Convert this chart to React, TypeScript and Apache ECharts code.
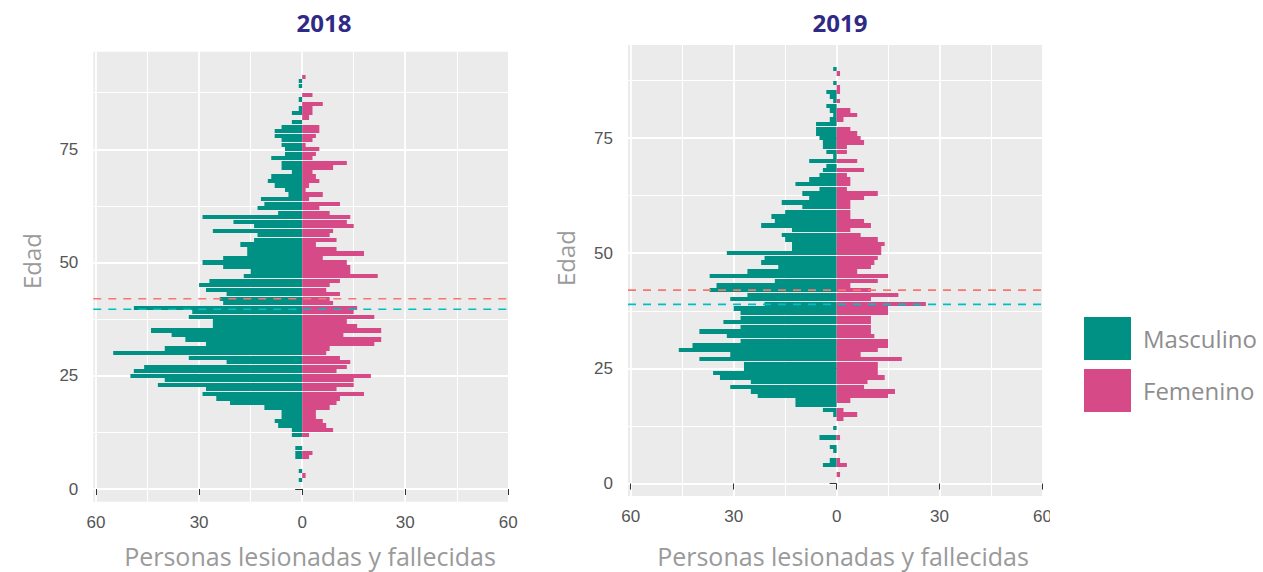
import React, { useEffect, useRef } from 'react';
import * as echarts from 'echarts';

// ---------- data (index = age in years) ----------
const YEARS = ['2018', '2019'];
const SEX_NAMES = ['Masculino', 'Femenino'];

const MALE_2018 = [
  0, 0, 1, 0, 1, 0, 0, 2, 2, 2,
  0, 0, 3, 3, 7, 8, 6, 6, 11, 21,
  25, 29, 28, 42, 40, 50, 49, 46, 22, 33,
  55, 40, 28, 34, 38, 44, 26, 26, 33, 32,
  49, 23, 24, 22, 28, 30, 27, 17, 15, 23,
  29, 23, 16, 16, 18, 14, 13, 26, 14, 20,
  29, 7, 13, 11, 12, 4, 5, 8, 10, 9,
  3, 6, 6, 9, 5, 5, 6, 6, 8, 8,
  6, 3, 0, 3, 1, 0, 1, 0, 0, 1,
  1, 0, 0,
];
const FEMALE_2018 = [
  0, 0, 0, 1, 0, 0, 0, 2, 3, 0,
  0, 0, 2, 9, 7, 6, 4, 4, 8, 10,
  11, 18, 10, 15, 15, 20, 10, 13, 14, 11,
  7, 8, 21, 23, 12, 23, 16, 13, 21, 15,
  16, 9, 8, 11, 7, 8, 11, 22, 14, 14,
  13, 6, 18, 10, 4, 10, 8, 9, 15, 13,
  14, 8, 5, 11, 2, 6, 1, 2, 5, 4,
  3, 9, 13, 3, 4, 5, 1, 3, 4, 5,
  5, 0, 2, 3, 3, 6, 0, 3, 0, 0,
  0, 1, 0,
];
const MALE_2019 = [
  0, 0, 0, 0, 4, 2, 0, 1, 2, 0,
  5, 0, 1, 0, 0, 1, 4, 12, 12, 23,
  25, 31, 25, 34, 36, 27, 27, 40, 31, 46,
  42, 28, 32, 40, 28, 33, 28, 28, 30, 21,
  31, 26, 37, 35, 18, 37, 26, 17, 22, 21,
  32, 13, 13, 15, 16, 13, 22, 18, 19, 15,
  10, 16, 8, 10, 5, 12, 8, 5, 4, 3,
  8, 1, 3, 4, 4, 5, 6, 6, 6, 2,
  1, 2, 3, 1, 2, 3, 0, 1, 0, 0,
  1,
];
const FEMALE_2019 = [
  0, 0, 1, 0, 3, 1, 0, 0, 0, 0,
  1, 0, 0, 0, 2, 6, 2, 0, 4, 15,
  17, 8, 9, 14, 12, 12, 12, 19, 7, 12,
  15, 15, 11, 10, 10, 10, 10, 15, 15, 26,
  10, 18, 10, 4, 12, 15, 6, 10, 11, 12,
  13, 13, 14, 12, 7, 4, 10, 8, 4, 4,
  4, 4, 8, 12, 3, 4, 4, 3, 8, 0,
  6, 0, 3, 3, 8, 7, 6, 4, 0, 2,
  6, 4, 0, 1, 0, 1, 1, 0, 0, 1,
  0,
];
// mean age lines per year
const MEAN_FEMALE = [42.0, 42.0];
const MEAN_MALE = [39.7, 38.9];

// tick values
const X_MAJOR = [-60, -30, 0, 30, 60];
const X_MINOR = [-45, -15, 15, 45];
const Y_MAJOR = [0, 25, 50, 75];
const Y_MINOR = [12.5, 37.5, 62.5, 87.5];

// ---------- styling / layout ----------
const TEAL = '#009184';
const PINK = '#D64A87';
const MEAN_F_COLOR = '#F8766D';
const MEAN_M_COLOR = '#00BFC4';
const TEXT_FONT = '"Open Sans", "Noto Sans", sans-serif';
const TICK_FONT = '"Liberation Sans", Arial, sans-serif';
const BAR_HALF = 0.47;

const PANELS = [
  { left: 93.3, top: 51.7, width: 415, height: 450, xMin: -60.8, xMax: 60, yMin: -2.8, yMax: 96.55, titleX: 324, yTitleX: 31, yTitleY: 261, xTitleX: 310 },
  { left: 628, top: 45, width: 414.5, height: 451, xMin: -60.8, xMax: 60, yMin: -2.7, yMax: 95.2, titleX: 840, yTitleX: 565, yTitleY: 258, xTitleX: 843 },
];

const DATA = [
  { male: MALE_2018, female: FEMALE_2018 },
  { male: MALE_2019, female: FEMALE_2019 },
];

const renderBar = (_params: any, api: any) => {
  const v = api.value(0);
  const age = api.value(1);
  const a = api.coord([0, age + BAR_HALF]);
  const b = api.coord([v, age - BAR_HALF]);
  const y0 = Math.round(a[1]);
  const y1 = Math.round(b[1]);
  return {
    type: 'rect',
    shape: { x: Math.min(a[0], b[0]), y: y0, width: Math.abs(b[0] - a[0]), height: y1 - y0 },
    style: { fill: api.visual('color') },
  };
};

function buildOption() {
  const grid: any[] = [];
  const xAxis: any[] = [];
  const yAxis: any[] = [];
  const series: any[] = [];
  const graphic: any[] = [];

  PANELS.forEach((p, i) => {
    grid.push({
      left: p.left, top: p.top, width: p.width, height: p.height,
      show: true, backgroundColor: '#EBEBEB', borderWidth: 0,
    });
    xAxis.push({
      type: 'value', gridIndex: i, min: p.xMin, max: p.xMax, position: 'bottom',
      axisLine: { show: false },
      axisTick: { show: true, customValues: X_MAJOR, length: 6, lineStyle: { color: '#333', width: 1 } },
      axisLabel: { customValues: X_MAJOR, formatter: (v: number) => String(Math.abs(v)), color: '#555', fontSize: 17, fontFamily: TICK_FONT, margin: 12 },
      splitLine: { show: true, lineStyle: { color: '#ffffff', width: 1.8 } },
    });
    xAxis.push({
      type: 'value', gridIndex: i, min: p.xMin, max: p.xMax, position: 'top',
      axisLine: { show: false },
      axisTick: { show: false, customValues: X_MINOR },
      axisLabel: { show: false, customValues: X_MINOR },
      splitLine: { show: true, lineStyle: { color: '#ffffff', width: 1.1 } },
    });
    yAxis.push({
      type: 'value', gridIndex: i, min: p.yMin, max: p.yMax, position: 'left',
      axisLine: { show: false },
      axisTick: { show: true, customValues: Y_MAJOR, length: 7, lineStyle: { color: '#333', width: 1 } },
      axisLabel: { customValues: Y_MAJOR, color: '#555', fontSize: 17, fontFamily: TICK_FONT, margin: 15 },
      splitLine: { show: true, lineStyle: { color: '#ffffff', width: 1.8 } },
    });
    yAxis.push({
      type: 'value', gridIndex: i, min: p.yMin, max: p.yMax, position: 'right',
      axisLine: { show: false },
      axisTick: { show: false, customValues: Y_MINOR },
      axisLabel: { show: false, customValues: Y_MINOR },
      splitLine: { show: true, lineStyle: { color: '#ffffff', width: 1.1 } },
    });

    const d = DATA[i];
    const maleData = d.male.map((v, age) => [-v, age]).filter((r) => r[0] !== 0);
    const femaleData = d.female.map((v, age) => [v, age]).filter((r) => r[0] !== 0);
    series.push({
      type: 'custom', name: SEX_NAMES[0], xAxisIndex: 2 * i, yAxisIndex: 2 * i,
      renderItem: renderBar, itemStyle: { color: TEAL }, encode: { x: 0, y: 1 }, data: maleData,
    });
    series.push({
      type: 'custom', name: SEX_NAMES[1], xAxisIndex: 2 * i, yAxisIndex: 2 * i,
      renderItem: renderBar, itemStyle: { color: PINK }, encode: { x: 0, y: 1 }, data: femaleData,
    });
    [
      { mean: MEAN_FEMALE[i], color: MEAN_F_COLOR },
      { mean: MEAN_MALE[i], color: MEAN_M_COLOR },
    ].forEach((m) => {
      series.push({
        type: 'line', xAxisIndex: 2 * i, yAxisIndex: 2 * i, silent: true,
        symbol: 'none', z: 5,
        lineStyle: { color: m.color, width: 1.6, type: [8, 7] },
        data: [[p.xMin, m.mean], [p.xMax, m.mean]],
      });
    });

    graphic.push({
      type: 'text', x: p.titleX, y: 22, z: 50,
      style: { text: YEARS[i], fill: '#2E2A86', fontSize: 24, fontWeight: 'bold', fontFamily: TEXT_FONT, textAlign: 'center', textVerticalAlign: 'middle', align: 'center', verticalAlign: 'middle' },
    });
    graphic.push({
      type: 'text', x: p.yTitleX, y: p.yTitleY, rotation: Math.PI / 2, z: 50,
      style: { text: 'Edad', fill: '#9A9A9A', fontSize: 24, fontFamily: TEXT_FONT, textAlign: 'center', textVerticalAlign: 'middle', align: 'center', verticalAlign: 'middle' },
    });
    graphic.push({
      type: 'text', x: p.xTitleX, y: 556, z: 50,
      style: { text: 'Personas lesionadas y fallecidas', fill: '#9A9A9A', fontSize: 25, fontFamily: TEXT_FONT, textAlign: 'center', textVerticalAlign: 'middle', align: 'center', verticalAlign: 'middle' },
    });
  });

  // the reference image is cropped just right of the second panel
  graphic.push({ type: 'rect', z: 100, shape: { x: 1050, y: 506, width: 30, height: 36 }, style: { fill: '#ffffff' } });

  return {
    animation: false,
    backgroundColor: '#ffffff',
    grid, xAxis, yAxis, series, graphic,
    legend: {
      show: true, orient: 'vertical', left: 1084, top: 317, padding: 0,
      itemWidth: 47, itemHeight: 43, itemGap: 9, selectedMode: false, icon: 'rect',
      data: [
        { name: SEX_NAMES[0], itemStyle: { color: TEAL } },
        { name: SEX_NAMES[1], itemStyle: { color: PINK } },
      ],
      textStyle: { color: '#8E8E8E', fontSize: 24, fontFamily: TEXT_FONT, padding: [0, 0, 0, 7] },
    },
  };
}

export default function App() {
  const ref = useRef<HTMLDivElement>(null);
  useEffect(() => {
    document.body.style.margin = '0';
    if (!ref.current) return;
    const chart = echarts.init(ref.current, undefined, { renderer: 'svg' });
    chart.setOption(buildOption() as any);
    return () => chart.dispose();
  }, []);
  return <div ref={ref} style={{ width: 1263, height: 572 }} />;
}
